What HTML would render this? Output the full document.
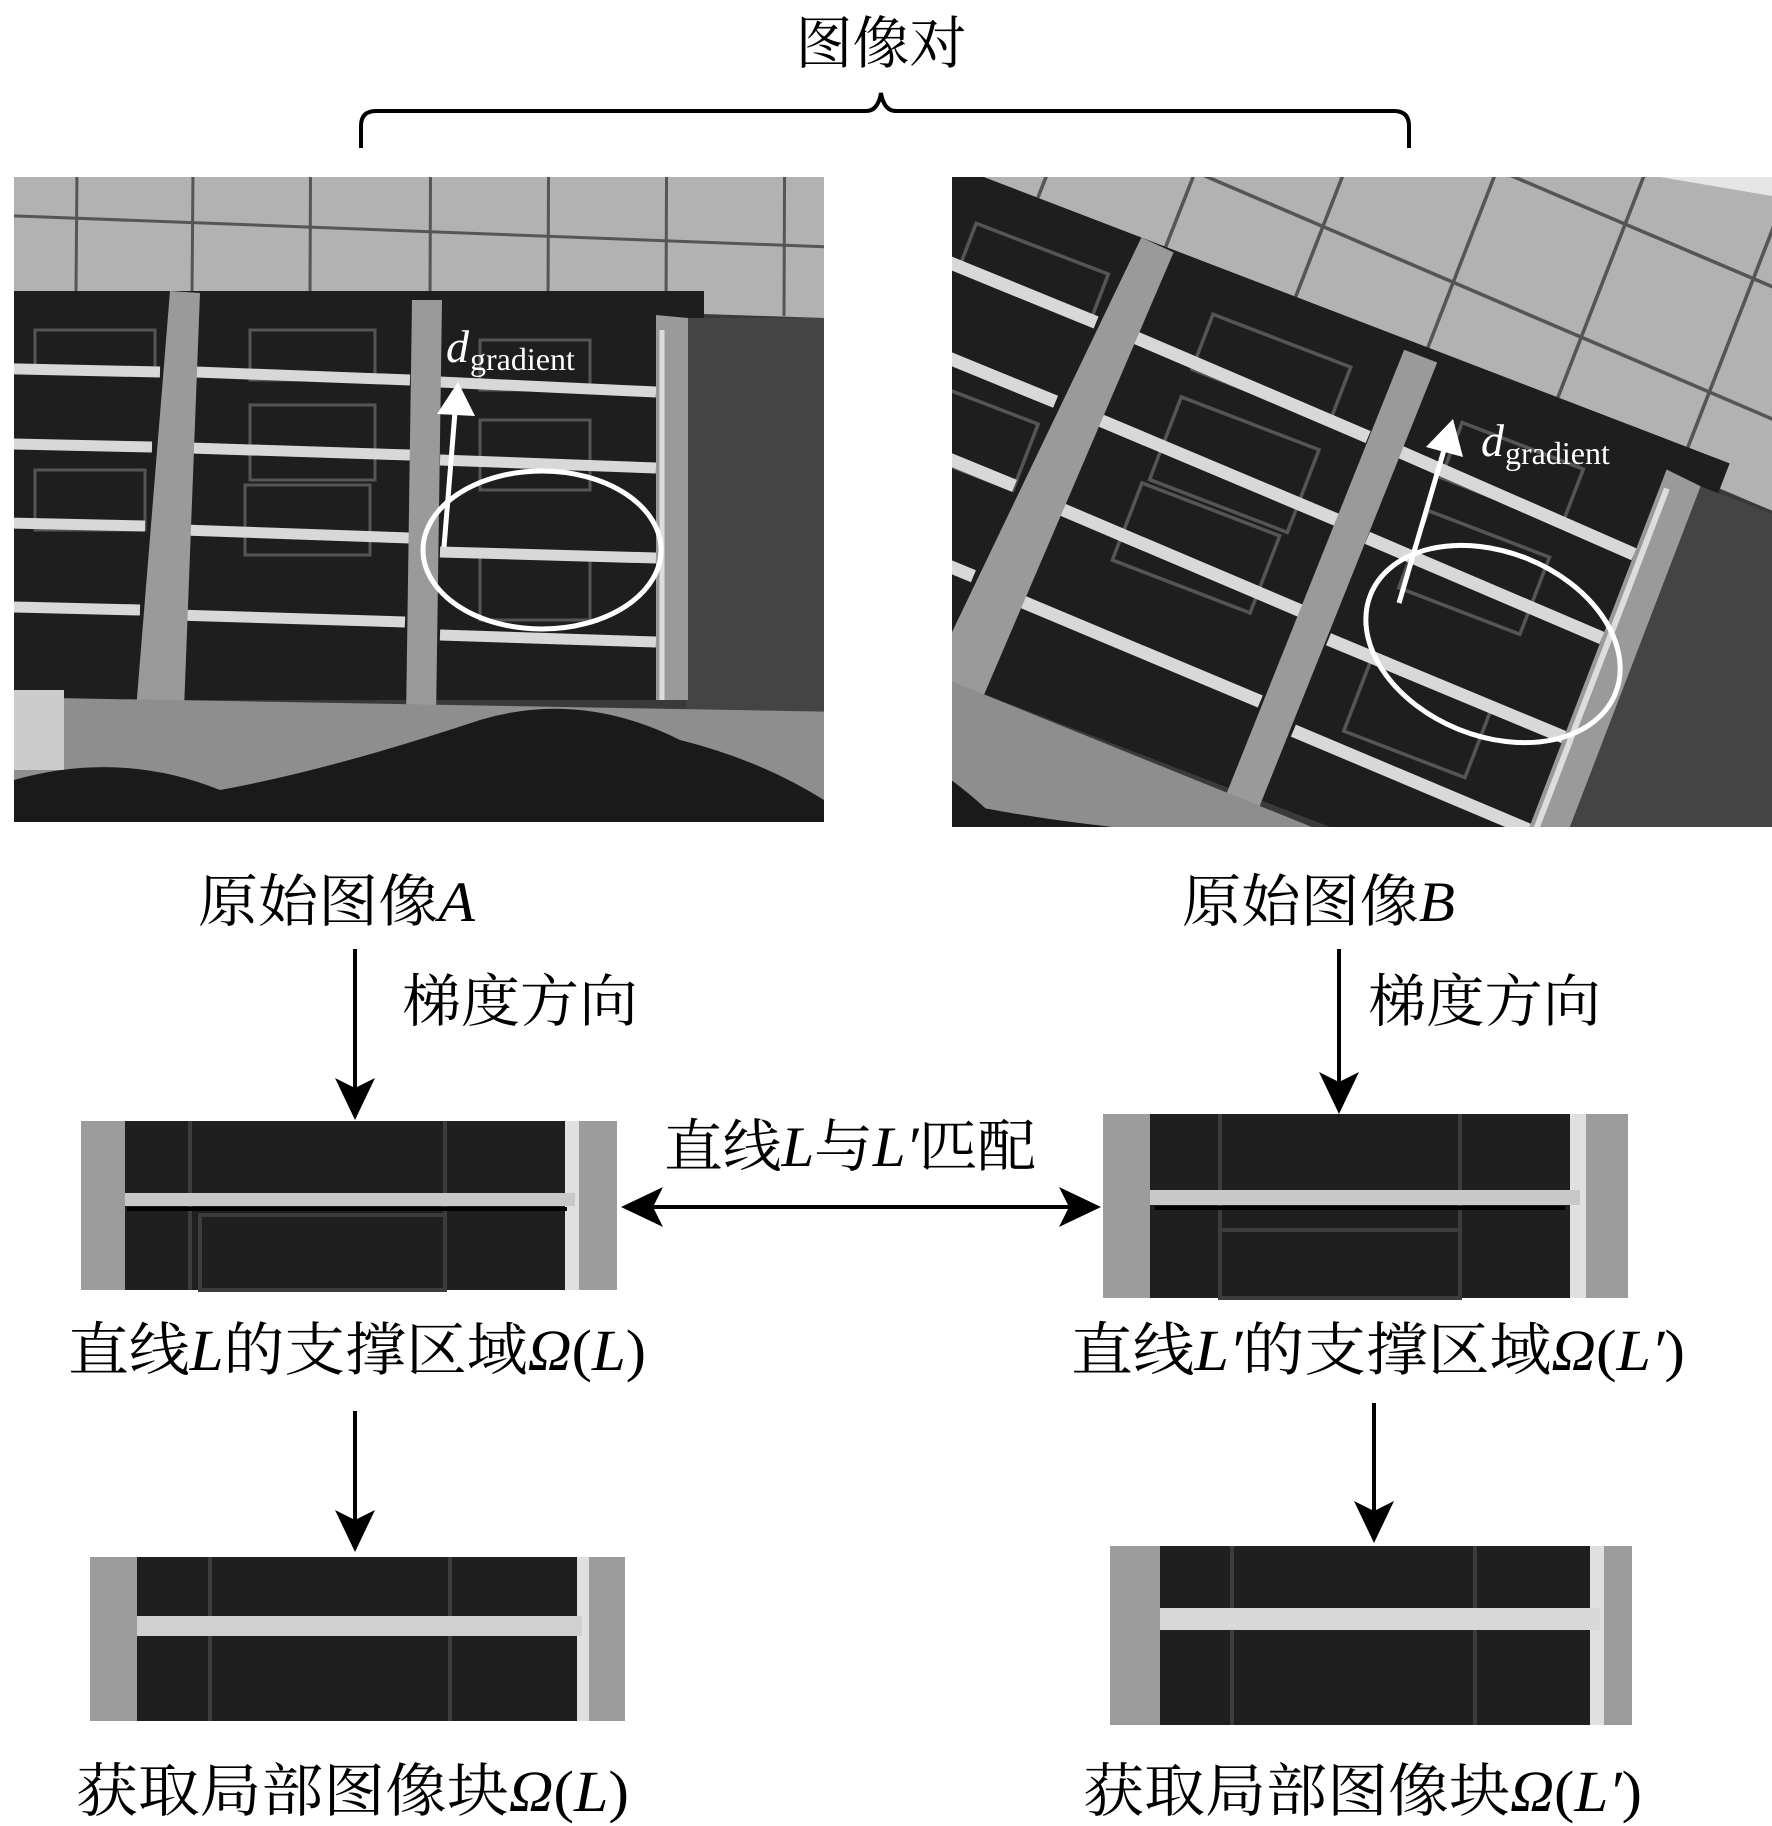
<!DOCTYPE html>
<html><head><meta charset="utf-8"><style>
html,body{margin:0;padding:0;background:#fff;}
svg{display:block;}
text{font-family:"Liberation Serif","Noto Serif CJK SC",serif;fill:#000;}
</style></head><body>
<svg width="1772" height="1826" viewBox="0 0 1772 1826" xmlns="http://www.w3.org/2000/svg">
<defs>
<clipPath id="ca"><rect x="14" y="177" width="810" height="645"/></clipPath>
<clipPath id="cb"><rect x="952" y="177" width="820" height="650"/></clipPath>
<g id="bld">
  <rect x="-400" y="-200" width="1700" height="1300" fill="#3a3a3a"/>
  <!-- facade top -->
  <polygon points="-400,-200 1300,-200 1300,330 824,318 14,291 -400,285" fill="#b2b2b2"/>
  <g stroke="#555" stroke-width="3">
    <line x1="-400" y1="200" x2="1300" y2="265"/>
    <line x1="-400" y1="100" x2="1300" y2="160"/>
    <line x1="80" y1="-200" x2="76" y2="291"/><line x1="196" y1="-200" x2="192" y2="295"/>
    <line x1="312" y1="-200" x2="310" y2="298"/><line x1="432" y1="-200" x2="430" y2="302"/>
    <line x1="550" y1="-200" x2="548" y2="306"/><line x1="668" y1="-200" x2="666" y2="310"/>
    <line x1="786" y1="-200" x2="784" y2="316"/><line x1="900" y1="-200" x2="900" y2="320"/>
    <line x1="1010" y1="-200" x2="1010" y2="322"/>
  </g>
  <!-- windows area dark -->
  <rect x="-400" y="291" width="1104" height="409" fill="#1e1e1e"/>
  <rect x="686" y="318" width="614" height="400" fill="#444"/>
  <g fill="none" stroke="#555" stroke-width="3">
    <rect x="250" y="330" width="125" height="50"/><rect x="250" y="405" width="125" height="75"/>
    <rect x="480" y="340" width="110" height="50"/><rect x="480" y="420" width="110" height="70"/>
    <rect x="480" y="555" width="110" height="65"/><rect x="245" y="485" width="125" height="70"/>
    <rect x="35" y="330" width="120" height="40"/><rect x="35" y="470" width="110" height="60"/>
  </g>
  <!-- bars -->
  <g stroke="#d8d8d8" stroke-width="11">
    <line x1="-400" y1="360" x2="160" y2="372"/><line x1="196" y1="372" x2="410" y2="380"/><line x1="440" y1="382" x2="656" y2="392"/>
    <line x1="-400" y1="435" x2="152" y2="447"/><line x1="190" y1="448" x2="410" y2="455"/><line x1="440" y1="460" x2="656" y2="468"/>
    <line x1="-400" y1="514" x2="145" y2="526"/><line x1="183" y1="530" x2="410" y2="538"/><line x1="440" y1="552" x2="656" y2="558"/>
    <line x1="-400" y1="597" x2="140" y2="610"/><line x1="176" y1="615" x2="405" y2="622"/><line x1="440" y1="635" x2="656" y2="642"/>
  </g>
  <!-- columns -->
  <polygon points="170,291 200,293 184,710 136,710" fill="#9a9a9a"/>
  <polygon points="412,300 442,300 436,720 406,720" fill="#9a9a9a"/>
  <polygon points="656,315 688,318 688,700 656,700" fill="#9a9a9a"/>
  <polygon points="-70,288 -40,288 -60,705 -100,705" fill="#9a9a9a"/>
  <line x1="662" y1="330" x2="662" y2="700" stroke="#ddd" stroke-width="5"/>
  <!-- base -->
  <polygon points="-400,690 1300,720 1300,1100 -400,1100" fill="#8e8e8e"/>
  <rect x="14" y="690" width="50" height="80" fill="#ccc"/>
  <!-- foliage -->
  <path d="M-400,780 L14,780 Q120,750 220,790 Q330,770 480,720 Q580,690 680,740 Q760,760 824,800 L1300,820 L1300,1100 L-400,1100Z" fill="#1a1a1a"/>
</g>
</defs>

<!-- title & brace -->
<text x="881" y="63" font-size="57" text-anchor="middle">图像对</text>
<path d="M361,148 L361,126 Q361,111 376,111 L866,111 Q878,111 881,93 Q884,111 896,111 L1394,111 Q1409,111 1409,126 L1409,148" fill="none" stroke="#000" stroke-width="4"/>

<!-- photo A -->
<g clip-path="url(#ca)"><use href="#bld"/></g>
<ellipse cx="542" cy="550" rx="119" ry="79" fill="none" stroke="#fff" stroke-width="5"/>
<line x1="444" y1="547" x2="455" y2="412" stroke="#fff" stroke-width="5"/>
<polygon points="458,382 475,416 437,414" fill="#fff"/>
<text x="446" y="362" font-size="46" font-style="italic" style="fill:#fff">d</text>
<text x="470" y="370" font-size="32" style="fill:#fff">gradient</text>

<!-- photo B -->
<g clip-path="url(#cb)">
  <use href="#bld" transform="translate(1340,540) rotate(21) scale(1.18) translate(-419,-470)"/>
  <polygon points="1660,177 1772,177 1772,196" fill="#e5e5e5"/>
</g>
<ellipse cx="1493" cy="644" rx="132" ry="92" transform="rotate(22 1493 644)" fill="none" stroke="#fff" stroke-width="5"/>
<line x1="1399" y1="603" x2="1444" y2="450" stroke="#fff" stroke-width="5"/>
<polygon points="1453,419 1463,457 1426,447" fill="#fff"/>
<text x="1481" y="456" font-size="46" font-style="italic" style="fill:#fff">d</text>
<text x="1505" y="464" font-size="32" style="fill:#fff">gradient</text>

<!-- labels under photos -->
<text x="198" y="921" font-size="57" textLength="277" lengthAdjust="spacingAndGlyphs">原始图像<tspan font-style="italic">A</tspan></text>
<text x="1182" y="921" font-size="57" textLength="273" lengthAdjust="spacingAndGlyphs">原始图像<tspan font-style="italic">B</tspan></text>

<!-- arrows -->
<g stroke="#000" stroke-width="4">
  <line x1="355" y1="949" x2="355" y2="1090"/>
  <line x1="1339" y1="949" x2="1339" y2="1084"/>
  <line x1="355" y1="1411" x2="355" y2="1522"/>
  <line x1="1374" y1="1403" x2="1374" y2="1513"/>
  <line x1="650" y1="1207" x2="1072" y2="1207"/>
</g>
<g fill="#000">
  <polygon points="355,1120 335,1078 355,1088 375,1078"/>
  <polygon points="1339,1114 1319,1072 1339,1082 1359,1072"/>
  <polygon points="355,1552 335,1510 355,1520 375,1510"/>
  <polygon points="1374,1543 1354,1501 1374,1511 1394,1501"/>
  <polygon points="621,1207 663,1187 653,1207 663,1227"/>
  <polygon points="1101,1207 1059,1187 1069,1207 1059,1227"/>
</g>
<text x="402" y="1021" font-size="57" textLength="236" lengthAdjust="spacingAndGlyphs">梯度方向</text>
<text x="1368" y="1021" font-size="57" textLength="233" lengthAdjust="spacingAndGlyphs">梯度方向</text>
<text x="664" y="1166" font-size="57" textLength="372" lengthAdjust="spacingAndGlyphs">直线<tspan font-style="italic">L</tspan>与<tspan font-style="italic">L′</tspan>匹配</text>

<!-- support region L -->
<rect x="81" y="1121" width="536" height="169" fill="#9c9c9c"/>
<rect x="125" y="1121" width="440" height="169" fill="#1f1f1f"/>
<rect x="565" y="1121" width="14" height="169" fill="#e0e0e0"/>
<g stroke="#3c3c3c" stroke-width="4"><line x1="190" y1="1121" x2="190" y2="1290"/><line x1="445" y1="1121" x2="445" y2="1290"/><rect x="200" y="1215" width="245" height="75" fill="none"/></g>
<rect x="125" y="1193" width="450" height="13" fill="#c8c8c8"/>
<rect x="127" y="1207" width="440" height="4" fill="#000"/>

<!-- support region R -->
<rect x="1103" y="1114" width="525" height="184" fill="#9c9c9c"/>
<rect x="1150" y="1114" width="420" height="184" fill="#1f1f1f"/>
<rect x="1570" y="1114" width="16" height="184" fill="#e0e0e0"/>
<g stroke="#3c3c3c" stroke-width="4"><line x1="1220" y1="1114" x2="1220" y2="1298"/><line x1="1460" y1="1114" x2="1460" y2="1298"/><rect x="1220" y="1230" width="240" height="68" fill="none"/></g>
<rect x="1150" y="1190" width="430" height="15" fill="#c8c8c8"/>
<rect x="1155" y="1206" width="410" height="4" fill="#000"/>

<text x="68" y="1370" font-size="58" textLength="578" lengthAdjust="spacingAndGlyphs">直线<tspan font-style="italic">L</tspan>的支撑区域<tspan font-style="italic">Ω</tspan>(<tspan font-style="italic">L</tspan>)</text>
<text x="1071" y="1370" font-size="58" textLength="614" lengthAdjust="spacingAndGlyphs">直线<tspan font-style="italic">L′</tspan>的支撑区域<tspan font-style="italic">Ω</tspan>(<tspan font-style="italic">L′</tspan>)</text>

<!-- patch L -->
<rect x="90" y="1557" width="535" height="164" fill="#9c9c9c"/>
<rect x="137" y="1557" width="440" height="164" fill="#1f1f1f"/>
<rect x="577" y="1557" width="12" height="164" fill="#e0e0e0"/>
<g stroke="#3c3c3c" stroke-width="4"><line x1="210" y1="1557" x2="210" y2="1721"/><line x1="450" y1="1557" x2="450" y2="1721"/></g>
<rect x="137" y="1616" width="445" height="20" fill="#d0d0d0"/>

<!-- patch R -->
<rect x="1110" y="1546" width="522" height="179" fill="#9c9c9c"/>
<rect x="1160" y="1546" width="430" height="179" fill="#1f1f1f"/>
<rect x="1590" y="1546" width="14" height="179" fill="#e0e0e0"/>
<g stroke="#3c3c3c" stroke-width="4"><line x1="1232" y1="1546" x2="1232" y2="1725"/><line x1="1475" y1="1546" x2="1475" y2="1725"/></g>
<rect x="1160" y="1608" width="440" height="22" fill="#d8d8d8"/>

<text x="76" y="1811" font-size="58" textLength="553" lengthAdjust="spacingAndGlyphs">获取局部图像块<tspan font-style="italic">Ω</tspan>(<tspan font-style="italic">L</tspan>)</text>
<text x="1083" y="1811" font-size="58" textLength="559" lengthAdjust="spacingAndGlyphs">获取局部图像块<tspan font-style="italic">Ω</tspan>(<tspan font-style="italic">L′</tspan>)</text>
</svg>
</body></html>
